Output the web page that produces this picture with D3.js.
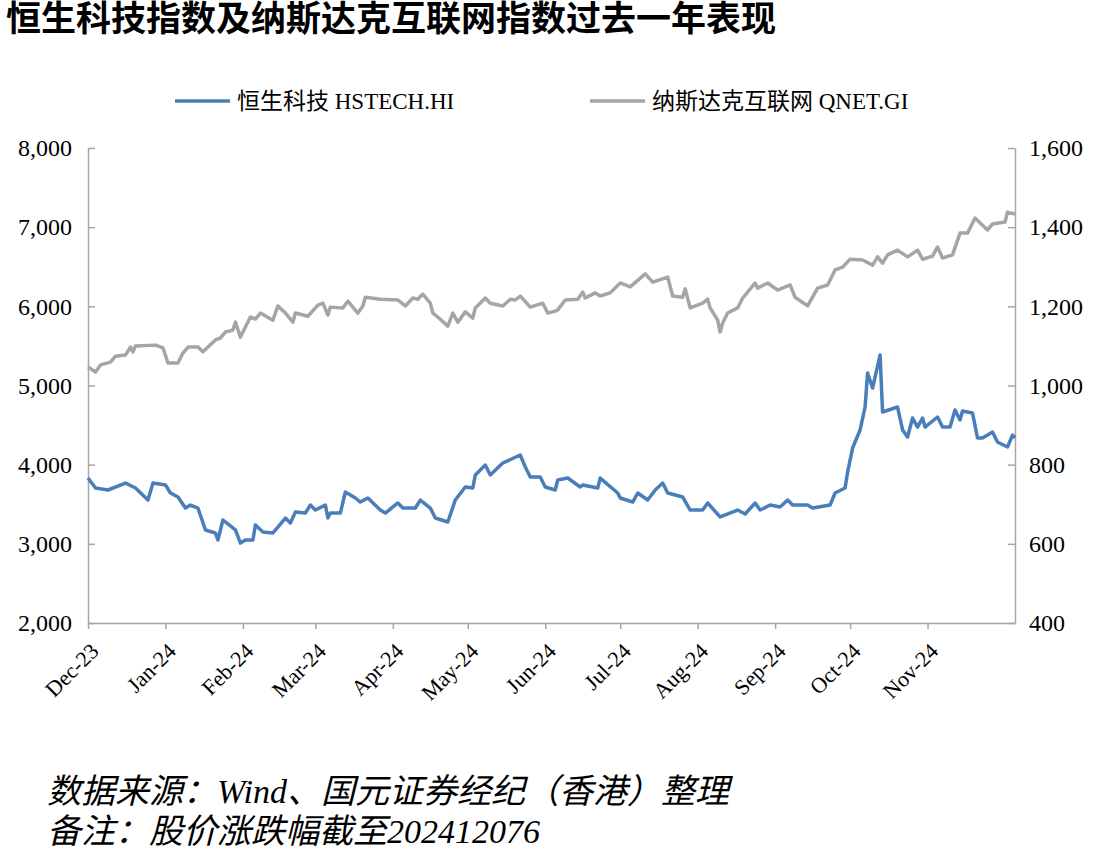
<!DOCTYPE html>
<html><head><meta charset="utf-8">
<script src="https://cdn.jsdelivr.net/npm/d3@7"></script>
<style>body{margin:0;background:#fff}</style></head>
<body><svg id="c" width="1094" height="848"></svg>
<script>
// days since 2023-12-01
const hsDays=[0,3,8,15,19,24,26,31,33,36,39,41,44,47,51,52,54,59,61,63,66,67,70,74,76,79,81,83,87,89,91,95,96,97,101,103,107,109,112,117,119,124,126,131,133,137,139,144,147,151,154,155,159,161,166,173,175,177,181,183,187,188,192,197,198,204,205,212,213,218,220,224,227,230,232,238,241,246,248,253,260,263,267,269,273,277,280,282,288,290,297,299,303,304,306,309,311,312,314,317,318,324,326,328,330,332,334,335,340,342,345,347,349,350,354,356,358,362,364,368,370,371];
const hsVals=[3831,3705,3680,3768,3705,3553,3768,3743,3642,3591,3452,3490,3452,3175,3137,3048,3301,3175,3010,3048,3048,3238,3149,3137,3212,3326,3263,3402,3389,3490,3427,3490,3326,3389,3389,3655,3579,3528,3579,3427,3389,3516,3452,3452,3553,3452,3326,3276,3553,3718,3705,3869,3996,3869,4021,4122,3970,3844,3844,3718,3680,3806,3831,3718,3743,3705,3831,3642,3579,3528,3642,3553,3680,3768,3642,3591,3427,3427,3516,3339,3427,3377,3516,3427,3490,3465,3553,3490,3490,3452,3490,3642,3705,3907,4210,4438,4728,5158,4968,5385,4665,4728,4438,4349,4589,4475,4589,4475,4602,4475,4475,4690,4564,4678,4652,4337,4337,4412,4286,4223,4374,4337];
const qnDays=[0,3,5,9,11,15,17,18,19,27,30,32,36,38,40,44,46,51,53,55,58,59,61,63,65,67,69,74,76,79,82,83,88,92,94,96,97,102,104,108,110,111,117,124,127,130,132,134,137,138,140,144,146,148,151,154,155,159,161,166,169,171,173,177,182,184,187,188,191,196,198,199,203,205,209,213,217,223,226,232,234,238,239,241,246,248,249,252,253,254,256,260,262,264,267,268,272,276,281,283,288,292,296,299,302,305,310,314,316,318,320,324,328,332,334,338,340,342,346,349,352,355,360,362,367,368,371];
const qnVals=[1047,1034,1052,1059,1074,1077,1097,1085,1100,1102,1095,1057,1057,1082,1097,1097,1085,1115,1120,1135,1140,1160,1122,1148,1173,1168,1183,1165,1201,1183,1160,1183,1175,1203,1208,1178,1198,1196,1213,1183,1201,1223,1218,1216,1201,1221,1218,1231,1208,1183,1173,1150,1183,1160,1186,1170,1196,1221,1208,1201,1218,1216,1226,1198,1208,1183,1188,1191,1216,1218,1236,1221,1234,1226,1234,1259,1249,1282,1261,1274,1226,1223,1244,1196,1208,1218,1196,1165,1135,1158,1183,1196,1221,1236,1259,1246,1259,1241,1254,1223,1201,1246,1254,1292,1299,1319,1317,1304,1325,1309,1330,1342,1325,1342,1319,1327,1350,1322,1330,1385,1385,1423,1393,1408,1413,1438,1433];
const monthLabels=["Dec-23","Jan-24","Feb-24","Mar-24","Apr-24","May-24","Jun-24","Jul-24","Aug-24","Sep-24","Oct-24","Nov-24"];
const leftTicks=[2000,3000,4000,5000,6000,7000,8000];
const rightTicks=[400,600,800,1000,1200,1400,1600];
const seriesNames=["恒生科技 HSTECH.HI","纳斯达克互联网 QNET.GI"];

const start=new Date(2023,11,1);
const toDate=d=>d3.timeDay.offset(start,d);
const svg=d3.select("#c");
const L=88,R=1015,T=148,B=623;
const x=d3.scaleTime().domain([start,toDate(371)]).range([L,R]);
const yL=d3.scaleLinear().domain([2000,8000]).range([B,T]);
const yR=d3.scaleLinear().domain([400,1600]).range([B,T]);
const serif="'Liberation Serif','Times New Roman',serif";
const cjk="'Noto Sans CJK SC',sans-serif";
const axCol="#a6a6a6";

svg.append("text").attr("x",6).attr("y",31).text("恒生科技指数及纳斯达克互联网指数过去一年表现")
  .attr("font-family",cjk).attr("font-weight","bold").attr("font-size",35).attr("fill","#000");

function styleAxis(g){g.selectAll("path,line").attr("stroke",axCol).attr("stroke-width",1.5);
  g.selectAll("text").attr("font-family",serif).attr("font-size",24).attr("fill","#000");}
const gL=svg.append("g").attr("transform",`translate(${L},0)`)
  .call(d3.axisLeft(yL).tickValues(leftTicks).tickFormat(d3.format(",")).tickSizeInner(-7).tickSizeOuter(0).tickPadding(16));
styleAxis(gL);
const gR=svg.append("g").attr("transform",`translate(${R},0)`)
  .call(d3.axisRight(yR).tickValues(rightTicks).tickFormat(d3.format(",")).tickSizeInner(-7).tickSizeOuter(0).tickPadding(14));
styleAxis(gR);
const months=monthLabels.map((m,i)=>new Date(2023,11+i,1));
const gB=svg.append("g").attr("transform",`translate(0,${B})`)
  .call(d3.axisBottom(x).tickValues(months).tickFormat((d,i)=>monthLabels[i]).tickSize(6).tickSizeOuter(0));
styleAxis(gB);
gB.selectAll("text").attr("font-size",22).attr("text-anchor","end").attr("x",0).attr("y",0).attr("dy","0.35em")
  .attr("transform","translate(6,24) rotate(-45)");

const lineL=d3.line().x(d=>x(toDate(d[0]))).y(d=>yL(d[1]));
const lineR=d3.line().x(d=>x(toDate(d[0]))).y(d=>yR(d[1]));
svg.append("path").datum(qnDays.map((d,i)=>[d,qnVals[i]])).attr("d",lineR)
  .attr("fill","none").attr("stroke","#a5a5a5").attr("stroke-width",3.5).attr("stroke-linejoin","round");
svg.append("path").datum(hsDays.map((d,i)=>[d,hsVals[i]])).attr("d",lineL)
  .attr("fill","none").attr("stroke","#4a7ebb").attr("stroke-width",3.5).attr("stroke-linejoin","round");

const leg=[{x:175,c:"#4a7ebb"},{x:590,c:"#a5a5a5"}];
leg.forEach((l,i)=>{
  svg.append("line").attr("x1",l.x).attr("x2",l.x+55).attr("y1",101).attr("y2",101).attr("stroke",l.c).attr("stroke-width",3.5);
  svg.append("text").attr("x",l.x+62).attr("y",109).text(seriesNames[i]).attr("font-family",serif+","+cjk).attr("font-size",23);
});
svg.append("text").attr("x",47).attr("y",803).text("数据来源：Wind、国元证券经纪（香港）整理")
  .attr("font-family","'Liberation Serif','Noto Sans CJK SC',serif").attr("font-style","italic").attr("font-size",34);
svg.append("text").attr("x",47).attr("y",843).text("备注：股价涨跌幅截至202412076")
  .attr("font-family","'Liberation Serif','Noto Sans CJK SC',serif").attr("font-style","italic").attr("font-size",34);
</script></body></html>
